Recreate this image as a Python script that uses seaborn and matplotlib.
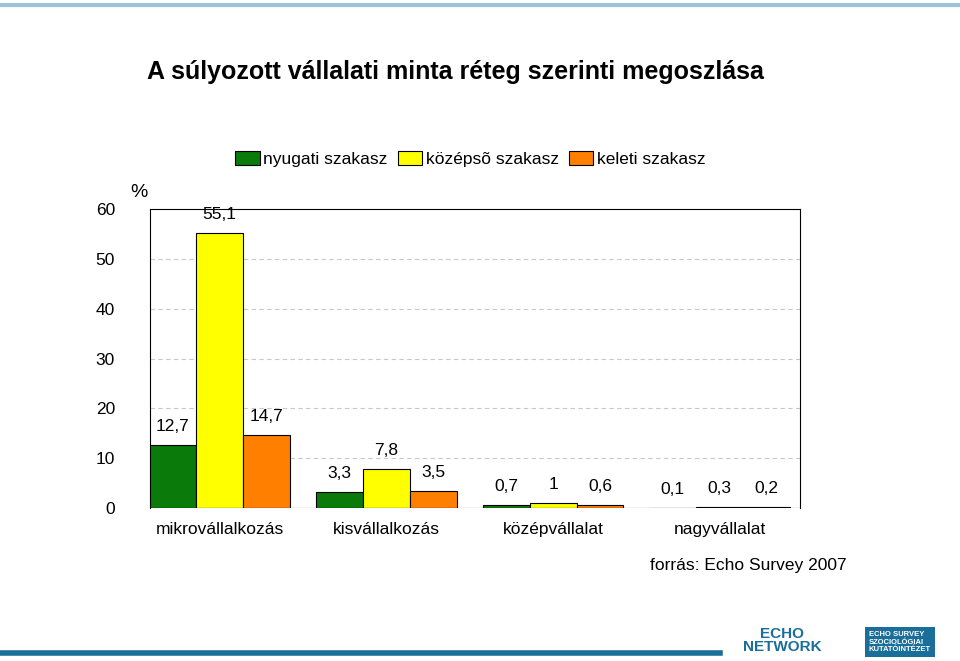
import matplotlib
matplotlib.use("Agg")
import matplotlib.pyplot as plt
import pandas as pd
import seaborn as sns

categories = ["mikrovállalkozás", "kisvállalkozás", "középvállalat", "nagyvállalat"]
series = ["nyugati szakasz", "középsõ szakasz", "keleti szakasz"]
nyugati = [12.7, 3.3, 0.7, 0.1]
kozepso = [55.1, 7.8, 1.0, 0.3]
keleti = [14.7, 3.5, 0.6, 0.2]
labels = [["12,7", "3,3", "0,7", "0,1"],
          ["55,1", "7,8", "1", "0,3"],
          ["14,7", "3,5", "0,6", "0,2"]]
colors = ["#0a7a0a", "#ffff00", "#ff8000"]

df = pd.DataFrame({
    "cat": categories * 3,
    "series": [s for s in series for _ in categories],
    "value": nyugati + kozepso + keleti,
})

plt.rcParams["font.family"] = "Liberation Sans"
fig = plt.figure(figsize=(9.6, 6.61), dpi=100)
ax = fig.add_axes([0.156, 0.231, 0.677, 0.453])

sns.barplot(data=df, x="cat", y="value", hue="series", palette=colors,
            saturation=1, width=0.845, edgecolor="black", linewidth=0.8,
            ax=ax, legend=False)

for cont, labs in zip(ax.containers, labels):
    ax.bar_label(cont, labels=labs, padding=8, fontsize=12.5)

ax.set_ylim(0, 60)
ax.set_xlim(-0.42, 3.48)
ax.set_yticks(range(0, 61, 10))
ax.tick_params(axis="y", length=0, pad=25, labelsize=12.5)
ax.tick_params(axis="x", length=0, pad=10, labelsize=12.5)
ax.set_xlabel("")
ax.set_ylabel("")
for y in range(10, 60, 10):
    ax.axhline(y, color="#c8c8c8", lw=0.8, ls=(0, (4, 3)), zorder=0)
ax.spines["bottom"].set_visible(False)
ax.axhline(0, color="black", lw=0.8)
ax.text(-0.03, 1.04, "%", transform=ax.transAxes, fontsize=14)

handles = [plt.Rectangle((0, 0), 1, 1, fc=c, ec="black", lw=0.8) for c in colors]
fig.legend(handles, series, loc="center", bbox_to_anchor=(0.49, 0.76), ncol=3,
           frameon=False, fontsize=12.5, handlelength=1.4, handleheight=0.9,
           handletextpad=0.2, columnspacing=0.6)

fig.text(0.474, 0.88, "A súlyozott vállalati minta réteg szerinti megoszlása",
         ha="center", fontsize=18, fontweight="bold")
fig.text(0.78, 0.138, "forrás: Echo Survey 2007", ha="center", fontsize=12.5)

# footer decoration
fig.add_artist(plt.Line2D([0.0, 0.75], [0.012, 0.012], color="#1a6e9a", lw=4))
fig.add_artist(plt.Line2D([0.0, 1.0], [0.993, 0.993], color="#9dc3d9", lw=3))
fig.text(0.815, 0.015, "ECHO\nNETWORK", color="#1a6e9a", fontsize=11,
         fontweight="bold", ha="center", linespacing=0.9)
fig.text(0.905, 0.015, "ECHO SURVEY\nSZOCIOLÓGIAI\nKUTATÓINTÉZET", color="white",
         fontsize=5.5, fontweight="bold", ha="left", linespacing=1.1,
         bbox=dict(fc="#1a6e9a", ec="none", pad=3))

fig.savefig("out.png", dpi=100)
